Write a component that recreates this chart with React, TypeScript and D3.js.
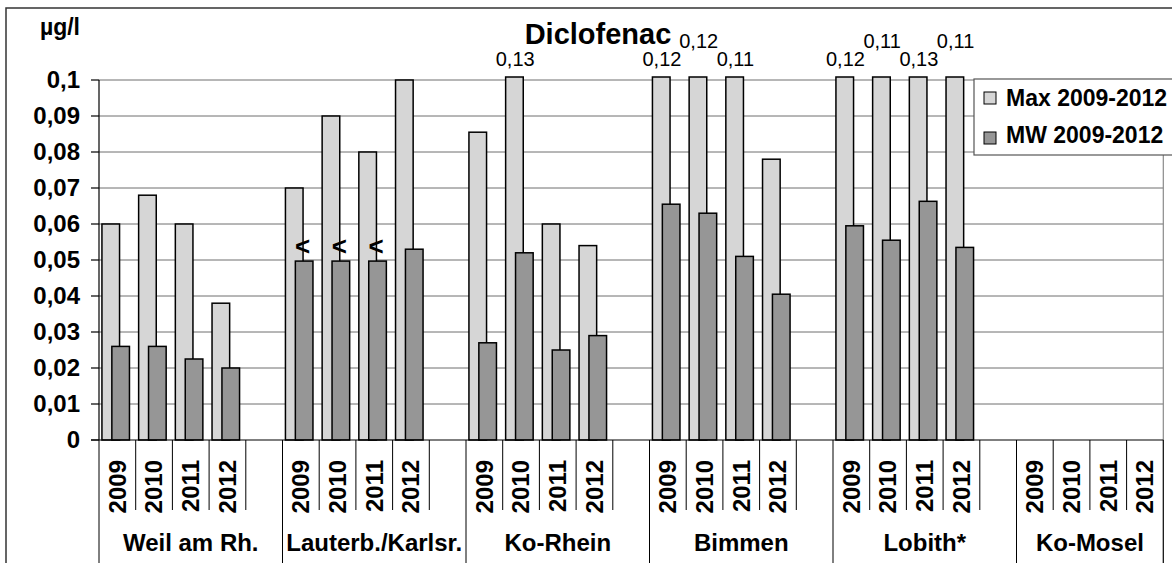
import React from "react";
import * as d3 from "d3";

const groups = ["Weil am Rh.", "Lauterb./Karlsr.", "Ko-Rhein", "Bimmen", "Lobith*", "Ko-Mosel"];
const years = ["2009", "2010", "2011", "2012"];

// values per station, 2009..2012
const maxValues: (number | null)[] = [
  0.06, 0.068, 0.06, 0.038,
  0.07, 0.09, 0.08, 0.1,
  0.0855, 0.13, 0.06, 0.054,
  0.12, 0.12, 0.11, 0.078,
  0.12, 0.11, 0.13, 0.11,
  null, null, null, null,
];
const mwValues: (number | null)[] = [
  0.026, 0.026, 0.0225, 0.02,
  0.0497, 0.0497, 0.0497, 0.053,
  0.027, 0.052, 0.025, 0.029,
  0.0655, 0.063, 0.051, 0.0405,
  0.0595, 0.0555, 0.0663, 0.0535,
  null, null, null, null,
];
// MW under limit of quantification ("<")
const mwBelowLoq = [
  false, false, false, false,
  true, true, true, false,
  false, false, false, false,
  false, false, false, false,
  false, false, false, false,
  false, false, false, false,
];
const yTicks = [0, 0.01, 0.02, 0.03, 0.04, 0.05, 0.06, 0.07, 0.08, 0.09, 0.1];
const raisedLabels = ["Bimmen|2010", "Lobith*|2010", "Lobith*|2012"];

const W = 1172;
const H = 563;
const left = 99;
const right = 1163.3;
const top = 80;
const bottom = 440;
const font = "'Liberation Sans', Arial, sans-serif";

const fmt = (v: number) => d3.format(".2f")(v).replace(".", ",").replace(/0$/, "");

export default function App() {
  const slots: string[] = [];
  groups.forEach((g, gi) => {
    years.forEach((yr) => slots.push(`${g}|${yr}`));
    if (gi < groups.length - 1) slots.push(`${g}|gap`);
  });

  const x = d3.scaleBand<string>().domain(slots).range([left, right]).padding(0);
  const y = d3.scaleLinear().domain([0, 0.1]).range([bottom, top]);
  const bw = x.bandwidth();
  const clipTop = y(0.1) - 3;

  const bars = groups.flatMap((g, gi) =>
    years.map((yr, yi) => {
      const i = gi * years.length + yi;
      return { key: `${g}|${yr}`, max: maxValues[i], mw: mwValues[i], loq: mwBelowLoq[i] };
    })
  );

  const barTop = (v: number) => Math.max(y(v), clipTop);

  return (
    <svg
      width={W}
      height={H}
      style={{ position: "absolute", left: 0, top: 0, display: "block", background: "#fff" }}
      fontFamily={font}
    >
      <rect x={6} y={8} width={W + 10} height={H + 10} fill="#fff" stroke="#333" strokeWidth={1.5} />

      {/* gridlines */}
      {yTicks.slice(1).map((t) => (
        <line key={t} x1={left} x2={right} y1={y(t)} y2={y(t)} stroke="#6e6e6e" strokeWidth={1} />
      ))}
      <line x1={right} x2={right} y1={top} y2={H} stroke="#8a8a8a" strokeWidth={1.2} />

      {/* bars */}
      {bars.map((b) => {
        const x0 = x(b.key) as number;
        return (
          <g key={b.key}>
            {b.max != null && (
              <rect
                x={x0 + bw * 0.08}
                y={barTop(b.max)}
                width={bw * 0.48}
                height={bottom - barTop(b.max)}
                fill="#d6d6d6"
                stroke="#000"
                strokeWidth={1.5}
              />
            )}
            {b.mw != null && (
              <rect
                x={x0 + bw * 0.35}
                y={barTop(b.mw)}
                width={bw * 0.48}
                height={bottom - barTop(b.mw)}
                fill="#969696"
                stroke="#000"
                strokeWidth={1.5}
              />
            )}
            {b.mw != null && b.loq && (
              <text
                x={x0 + bw * 0.55}
                y={y(b.mw) - 6}
                textAnchor="middle"
                fontSize={26}
                fontWeight="bold"
              >
                {"<"}
              </text>
            )}
            {b.max != null && b.max > 0.1 && (
              <text
                x={x0 + bw * 0.34}
                y={raisedLabels.includes(b.key) ? 48 : 66}
                textAnchor="middle"
                fontSize={20}
              >
                {fmt(b.max)}
              </text>
            )}
          </g>
        );
      })}

      {/* y axis */}
      <line x1={left} x2={left} y1={top} y2={bottom} stroke="#000" strokeWidth={1.2} />
      {yTicks.map((t) => (
        <g key={t}>
          <line x1={left - 8} x2={left} y1={y(t)} y2={y(t)} stroke="#000" strokeWidth={1.2} />
          <text x={80} y={y(t)} dy="0.35em" textAnchor="end" fontSize={24} fontWeight="bold">
            {String(t).replace(".", ",")}
          </text>
        </g>
      ))}
      <text x={80} y={35} textAnchor="end" fontSize={23} fontWeight="bold">
        µg/l
      </text>

      {/* x axis */}
      <line x1={left - 8} x2={right} y1={bottom} y2={bottom} stroke="#000" strokeWidth={1.2} />
      {slots.map((s, i) => {
        const x0 = x(s) as number;
        const tall = i === 0 || slots[i - 1].endsWith("gap");
        return (
          <line key={s} x1={x0} x2={x0} y1={bottom} y2={tall ? H : 510} stroke="#000" strokeWidth={1} />
        );
      })}
      <line x1={right} x2={right} y1={bottom} y2={H} stroke="#000" strokeWidth={1} />
      {slots
        .filter((s) => !s.endsWith("gap"))
        .map((s) => {
          const cx = (x(s) as number) + bw / 2;
          return (
            <text
              key={s}
              transform={`translate(${cx},460) rotate(-90)`}
              dy="0.35em"
              textAnchor="end"
              fontSize={24}
              fontWeight="bold"
            >
              {s.split("|")[1]}
            </text>
          );
        })}
      {groups.map((g, gi) => {
        const start = x(`${g}|2009`) as number;
        const end = gi < groups.length - 1 ? (x(`${g}|gap`) as number) + bw : right;
        return (
          <text key={g} x={(start + end) / 2} y={551} textAnchor="middle" fontSize={24} fontWeight="bold">
            {g}
          </text>
        );
      })}

      {/* title */}
      <text x={598} y={44} textAnchor="middle" fontSize={29} fontWeight="bold">
        Diclofenac
      </text>

      {/* legend */}
      <rect x={974} y={79} width={210} height={76} fill="#fff" stroke="#555" strokeWidth={1.2} />
      <rect x={984} y={92} width={12} height={12} fill="#d6d6d6" stroke="#000" strokeWidth={1} />
      <text x={1006} y={106} fontSize={23} fontWeight="bold">
        Max 2009-2012
      </text>
      <rect x={984} y={132} width={12} height={12} fill="#969696" stroke="#000" strokeWidth={1} />
      <text x={1006} y={143} fontSize={23} fontWeight="bold">
        MW 2009-2012
      </text>
    </svg>
  );
}
